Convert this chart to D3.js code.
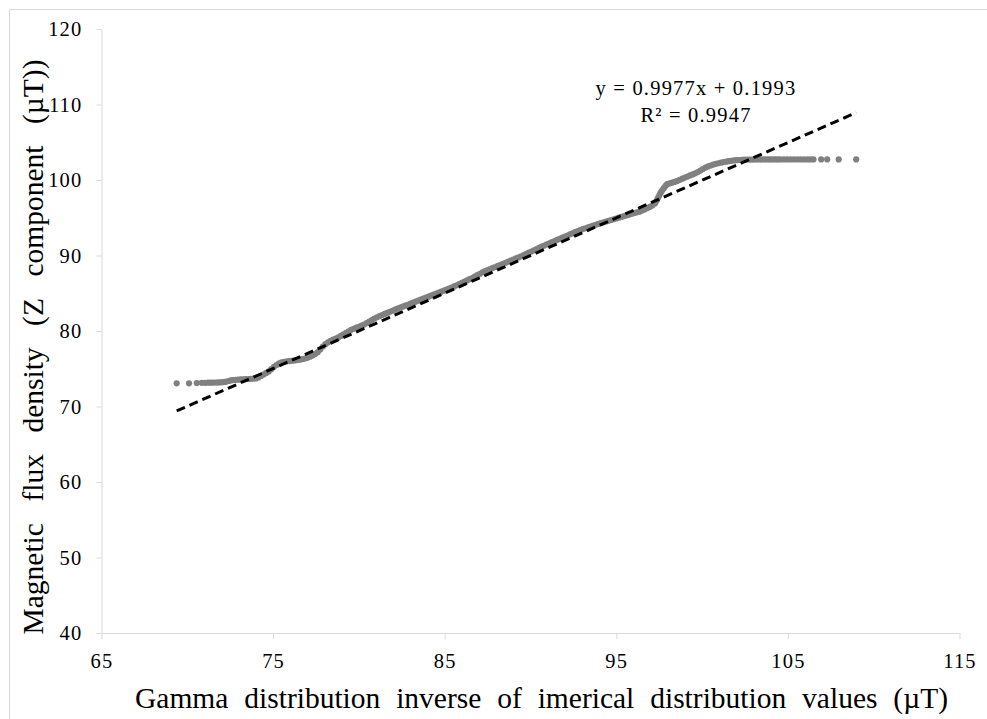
<!DOCTYPE html>
<html>
<head>
<meta charset="utf-8">
<script src="https://cdn.jsdelivr.net/npm/d3@7/dist/d3.min.js"></script>
<style>
  html, body { margin: 0; padding: 0; background: #fff; }
  svg { display: block; }
  text { font-family: "Liberation Serif", "Times New Roman", serif; fill: #000; }
</style>
</head>
<body>
<svg id="chart" width="987" height="719"></svg>
<script>
// Theoretical gamma quantiles (x) against sorted measured Bz values (y), µT
const qqX = [
  69.38, 70.10, 70.55, 70.84, 71.04, 71.22, 71.38, 71.53, 71.67, 71.80, 71.93, 72.05, 72.17, 72.29, 72.41,
  72.53, 72.66, 72.80, 72.95, 73.10, 73.25, 73.40, 73.55, 73.70, 73.85, 74.00, 74.15, 74.30, 74.45, 74.60,
  74.75, 74.90, 75.05, 75.20, 75.35, 75.50, 75.65, 75.80, 75.95, 76.10, 76.25, 76.40, 76.55, 76.70, 76.85,
  77.00, 77.15, 77.30, 77.45, 77.60, 77.75, 77.90, 78.05, 78.20, 78.35, 78.50, 78.65, 78.80, 78.95, 79.10,
  79.25, 79.40, 79.55, 79.70, 79.85, 80.00, 80.15, 80.30, 80.45, 80.60, 80.75, 80.90, 81.05, 81.20, 81.35,
  81.50, 81.65, 81.80, 81.95, 82.10, 82.25, 82.40, 82.55, 82.70, 82.85, 83.00, 83.15, 83.30, 83.45, 83.60,
  83.75, 83.90, 84.05, 84.20, 84.35, 84.50, 84.65, 84.80, 84.95, 85.10, 85.25, 85.40, 85.55, 85.70, 85.85,
  86.00, 86.15, 86.30, 86.45, 86.60, 86.75, 86.90, 87.05, 87.20, 87.35, 87.50, 87.65, 87.80, 87.95, 88.10,
  88.25, 88.40, 88.55, 88.70, 88.85, 89.00, 89.15, 89.30, 89.45, 89.60, 89.75, 89.90, 90.05, 90.20, 90.35,
  90.50, 90.65, 90.80, 90.95, 91.10, 91.25, 91.40, 91.55, 91.70, 91.85, 92.00, 92.15, 92.30, 92.45, 92.60,
  92.75, 92.90, 93.05, 93.20, 93.35, 93.50, 93.65, 93.80, 93.95, 94.10, 94.25, 94.40, 94.55, 94.70, 94.85,
  95.00, 95.15, 95.30, 95.45, 95.60, 95.75, 95.90, 96.05, 96.20, 96.35, 96.50, 96.65, 96.80, 96.95, 97.10,
  97.25, 97.32, 97.38, 97.44, 97.50, 97.56, 97.62, 97.70, 97.78, 97.87, 97.96, 98.10, 98.25, 98.40, 98.55,
  98.70, 98.85, 99.00, 99.15, 99.30, 99.45, 99.60, 99.75, 99.90, 100.05, 100.20, 100.35, 100.50, 100.65, 100.80,
  100.95, 101.10, 101.25, 101.40, 101.55, 101.70, 101.85, 102.00, 102.15, 102.30, 102.45, 102.60, 102.75, 102.90, 103.05,
  103.20, 103.35, 103.50, 103.65, 103.80, 103.95, 104.10, 104.25, 104.40, 104.55, 104.75, 104.95, 105.15, 105.35, 105.55,
  105.75, 105.95, 106.15, 106.32, 106.49, 106.94, 107.29, 107.96, 108.98
];
const qqY = [
  73.07, 73.07, 73.10, 73.13, 73.14, 73.15, 73.16, 73.17, 73.18, 73.19, 73.20, 73.22, 73.25, 73.30, 73.38,
  73.45, 73.50, 73.52, 73.55, 73.58, 73.60, 73.62, 73.64, 73.66, 73.68, 73.72, 73.85, 74.05, 74.25, 74.45,
  74.65, 74.95, 75.25, 75.50, 75.70, 75.85, 75.92, 75.98, 76.02, 76.06, 76.10, 76.15, 76.20, 76.28, 76.35,
  76.45, 76.60, 76.75, 76.95, 77.20, 77.55, 77.95, 78.25, 78.50, 78.70, 78.85, 79.00, 79.15, 79.35, 79.55,
  79.75, 79.95, 80.15, 80.30, 80.45, 80.55, 80.70, 80.85, 81.05, 81.25, 81.45, 81.65, 81.82, 81.97, 82.12,
  82.26, 82.40, 82.54, 82.68, 82.82, 82.96, 83.10, 83.22, 83.35, 83.48, 83.62, 83.75, 83.88, 84.02, 84.15,
  84.28, 84.42, 84.55, 84.68, 84.82, 84.95, 85.08, 85.21, 85.34, 85.47, 85.60, 85.74, 85.90, 86.06, 86.22,
  86.38, 86.54, 86.70, 86.86, 87.02, 87.20, 87.39, 87.58, 87.77, 87.93, 88.07, 88.21, 88.35, 88.48, 88.62,
  88.75, 88.90, 89.04, 89.18, 89.33, 89.47, 89.61, 89.75, 89.90, 90.05, 90.21, 90.37, 90.53, 90.69, 90.85,
  91.02, 91.17, 91.32, 91.47, 91.62, 91.77, 91.92, 92.06, 92.21, 92.36, 92.50, 92.65, 92.80, 92.94, 93.09,
  93.24, 93.38, 93.50, 93.61, 93.73, 93.84, 93.96, 94.07, 94.18, 94.29, 94.40, 94.50, 94.60, 94.70, 94.80,
  94.90, 95.01, 95.11, 95.22, 95.32, 95.42, 95.52, 95.62, 95.72, 95.80, 95.95, 96.10, 96.27, 96.44, 96.62,
  96.88, 97.15, 97.40, 97.68, 97.95, 98.22, 98.45, 98.70, 98.95, 99.22, 99.45, 99.55, 99.65, 99.75, 99.88,
  100.02, 100.18, 100.32, 100.45, 100.60, 100.74, 100.88, 101.05, 101.25, 101.45, 101.64, 101.80, 101.92, 102.04, 102.14,
  102.22, 102.30, 102.37, 102.43, 102.49, 102.54, 102.59, 102.63, 102.65, 102.67, 102.69, 102.70, 102.71, 102.71, 102.72,
  102.72, 102.72, 102.72, 102.72, 102.72, 102.72, 102.72, 102.72, 102.72, 102.72, 102.72, 102.73, 102.73, 102.73, 102.73,
  102.73, 102.73, 102.73, 102.73, 102.73, 102.73, 102.73, 102.73, 102.73
];

const xTicks = [65, 75, 85, 95, 105, 115];
const yTicks = [40, 50, 60, 70, 80, 90, 100, 110, 120];

// Linear trendline fitted to the points
const slope = 0.9977;
const intercept = 0.1993;
const rSquared = 0.9947;

const xTitle = "Gamma distribution inverse of imerical distribution values (µT)";
const yTitle = "Magnetic flux density (Z component (µT))";

const svg = d3.select("#chart");
const axisColor = "#d9d9d9";

// Chart frame
svg.append("rect")
  .attr("x", 9.5).attr("y", 9.5)
  .attr("width", 1000).attr("height", 1000)
  .attr("fill", "none").attr("stroke", axisColor).attr("stroke-width", 1);

const x = d3.scaleLinear().domain([65, 115]).range([101.5, 959.5]);
const y = d3.scaleLinear().domain([40, 120]).range([633, 29]);

// Axes
const gx = svg.append("g")
  .attr("transform", `translate(0,${y(40)})`)
  .call(d3.axisBottom(x).tickValues(xTicks).tickSize(6).tickSizeOuter(0).tickPadding(14).tickFormat(d3.format("d")));
const gy = svg.append("g")
  .attr("transform", `translate(${x(65)},0)`)
  .call(d3.axisLeft(y).tickValues(yTicks).tickSize(5).tickSizeOuter(0).tickPadding(14).tickFormat(d3.format("d")));

[gx, gy].forEach(g => {
  g.select(".domain").attr("stroke", axisColor).attr("stroke-width", 1);
  g.selectAll(".tick line").attr("stroke", axisColor).attr("stroke-width", 1);
  g.selectAll(".tick text")
    .attr("fill", "#000")
    .style("font-family", '"Liberation Serif", "Times New Roman", serif')
    .style("font-size", "20.5px")
    .style("letter-spacing", "1.2px");
});

// Q-Q points
const pts = qqX.map((v, i) => ({ x: v, y: qqY[i] }));
svg.append("g")
  .selectAll("circle")
  .data(pts)
  .join("circle")
  .attr("cx", d => x(d.x))
  .attr("cy", d => y(d.y))
  .attr("r", 3.1)
  .attr("fill", "#808080");

// Dashed linear trendline across the x extent of the data
const [x0, x1] = d3.extent(qqX);
svg.append("line")
  .attr("x1", x(x0)).attr("y1", y(slope * x0 + intercept))
  .attr("x2", x(x1)).attr("y2", y(slope * x1 + intercept))
  .attr("stroke", "#000")
  .attr("stroke-width", 3)
  .attr("stroke-dasharray", "9,5");

// Trendline equation
const eq = svg.append("g").style("font-size", "20.5px").style("letter-spacing", "1.2px");
eq.append("text").attr("x", 696).attr("y", 95).attr("text-anchor", "middle")
  .text(`y = ${slope}x + ${intercept}`);
eq.append("text").attr("x", 696).attr("y", 121.5).attr("text-anchor", "middle")
  .text(`R² = ${rSquared}`);

// Axis titles, spread with word spacing to their full width
function fitWords(sel, target) {
  const node = sel.node();
  const natural = node.getComputedTextLength();
  const gaps = (sel.text().match(/ /g) || []).length;
  if (gaps > 0) sel.style("word-spacing", `${Math.max(0, (target - natural) / gaps)}px`);
}

const xt = svg.append("text")
  .attr("x", 541.5).attr("y", 708)
  .attr("text-anchor", "middle")
  .style("font-size", "29.5px")
  .text(xTitle);
fitWords(xt, 813);

const yt = svg.append("text")
  .attr("transform", "translate(43,347) rotate(-90)")
  .attr("text-anchor", "middle")
  .style("font-size", "29.5px")
  .text(yTitle);
fitWords(yt, 575);
</script>
</body>
</html>
